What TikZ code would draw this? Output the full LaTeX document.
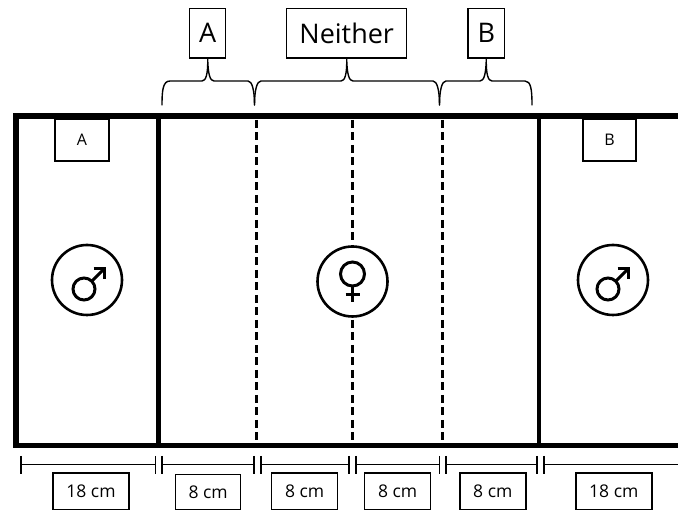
\documentclass[tikz,border=0pt]{standalone}
\usepackage{fontspec}
\setmainfont{Open Sans}
\tikzset{
  x=1pt,y=-1pt,
  wall/.style={line width=5.5pt,line cap=rect},
  divider/.style={line width=4.5pt},
  dashdiv/.style={line width=3pt,dash pattern=on 8pt off 4.5pt},
  bigbox/.style={draw,line width=1.5pt,fill=white,inner sep=0pt,font=\fontsize{27}{29}\selectfont},
  smallbox/.style={draw,line width=1.5pt,fill=white,inner sep=0pt,font=\fontsize{16}{18}\selectfont},
  cmbox/.style={draw,line width=1.4pt,fill=white,inner sep=0pt,font=\fontsize{17.5}{20}\selectfont},
  bracket/.style={line width=1.4pt,line cap=round,line join=round},
  dimline/.style={line width=1.6pt},
  ring/.style={circle,draw,line width=2.6pt,fill=white,inner sep=0pt,minimum size=70pt},
  glyph/.style={line width=3pt}
}
\begin{document}
\begin{tikzpicture}
\useasboundingbox (0,0) rectangle (678,510);
% chamber walls
\draw[wall] (678,116) -- (16,116) -- (16,445.3) -- (678,445.3);
\draw[divider] (158.5,116) -- (158.5,445);
\draw[divider] (539,116) -- (539,445);
\draw[dashdiv] (256.5,120) -- (256.5,443);
\draw[dashdiv] (352.5,120) -- (352.5,443);
\draw[dashdiv] (442.5,120) -- (442.5,443);
% side labels
\node[smallbox,minimum width=54pt,minimum height=42pt] (sa) at (82,140) {A};
\node[smallbox,minimum width=53pt,minimum height=42pt] (sb) at (609.5,140) {B};
% top labels
\node[bigbox,minimum width=36pt,minimum height=49.5pt] (ta) at (207.7,33.3) {A};
\node[bigbox,minimum width=120pt,minimum height=49.5pt] (tn) at (346.7,33.3) {Neither};
\node[bigbox,minimum width=36.5pt,minimum height=49.5pt] (tb) at (486.3,33.3) {B};
% braces
\coordinate (a1) at (162,105); \coordinate (a2) at (254.5,105);
\coordinate (n1) at (254.5,105); \coordinate (n2) at (439.5,105);
\coordinate (b1) at (439.5,105); \coordinate (b2) at (532,105);
\draw[bracket] (a1) .. controls (162,90) and (163,81) .. (170,81) -- (202,81)
  .. controls (206,81) and (208,74) .. (ta.south)
  .. controls (208,74) and (210,81) .. (214,81) -- (248,81)
  .. controls (252,81) and (254.5,90) .. (a2);
\draw[bracket] (n1) .. controls (254.5,90) and (257,81) .. (261,81) -- (341,81)
  .. controls (345,81) and (347,74) .. (tn.south)
  .. controls (347,74) and (349,81) .. (353,81) -- (433,81)
  .. controls (437,81) and (439.5,90) .. (n2);
\draw[bracket] (b1) .. controls (439.5,90) and (442,81) .. (446,81) -- (480,81)
  .. controls (484,81) and (486,74) .. (tb.south)
  .. controls (486,74) and (488,81) .. (492,81) -- (525,81)
  .. controls (531,81) and (532,90) .. (b2);
% symbols
\node[ring] (ml) at (87,280) {};
\node[ring] (f) at (352.5,281.5) {};
\node[ring] (mr) at (613,280) {};
\draw[glyph] (84,289) circle (11);
\draw[glyph] (92,281) -- (103,270);
\draw[glyph,line cap=butt] (93.5,268.5) -- (104.5,268.5) -- (104.5,279.5);
\draw[glyph] (608,289) circle (11);
\draw[glyph] (616,281) -- (627,270);
\draw[glyph,line cap=butt] (617.5,268.5) -- (628.5,268.5) -- (628.5,279.5);
\draw[glyph] (352.5,274) circle (12);
\draw[glyph] (352.5,286) -- (352.5,302);
\draw[glyph] (345.5,295) -- (359.5,295);
% dimension bars
\foreach \xa/\xb/\n in {21/155.3/d1,161.7/254/d2,260.7/348.7/d3,355.7/439.3/d4,446/537/d5}{
  \draw[dimline] (\xa,456) -- (\xa,474);
  \draw[dimline] (\xb,456) -- (\xb,474);
  \draw[dimline] (\xa,464.5) -- (\xb,464.5);
}
\draw[dimline] (544,456) -- (544,474);
\draw[dimline] (544,464.5) -- (678,464.5);
% dimension labels
\node[cmbox,minimum width=76pt,minimum height=36.5pt] (c1) at (91,491.3) {18 cm};
\node[cmbox,minimum width=65pt,minimum height=35pt] (c2) at (208.2,492) {8 cm};
\node[cmbox,minimum width=66pt,minimum height=36.5pt] (c3) at (304.7,491.3) {8 cm};
\node[cmbox,minimum width=66pt,minimum height=36.5pt] (c4) at (397.7,491.3) {8 cm};
\node[cmbox,minimum width=66pt,minimum height=36.5pt] (c5) at (492.8,491.3) {8 cm};
\node[cmbox,minimum width=76pt,minimum height=36.5pt] (c6) at (613.8,491.3) {18 cm};
\end{tikzpicture}
\end{document}
